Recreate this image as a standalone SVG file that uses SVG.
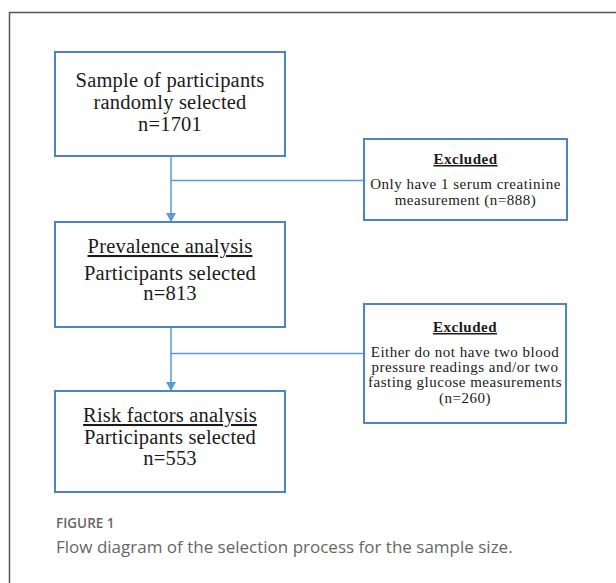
<svg xmlns="http://www.w3.org/2000/svg" width="616" height="583" viewBox="0 0 616 583">
<style>
.box{fill:#fff;stroke:#4f84c4;stroke-width:2}
.t{font-family:"Liberation Serif","Times New Roman",serif;fill:#1a1a1a;text-anchor:middle}
.big{font-size:20.5px;letter-spacing:0.2px}
.sm{font-size:15px;letter-spacing:0.5px}
.u{text-decoration:underline}
.b{font-weight:bold}
.conn{stroke:#5b9bd5;stroke-width:1.5;fill:none}
.cap{font-family:"Open Sans","Liberation Sans",sans-serif;fill:#666}
</style>
<defs>
<marker id="ah" markerWidth="10" markerHeight="10" refX="8" refY="5" orient="auto" markerUnits="userSpaceOnUse">
<path d="M0,0 L9,5 L0,10 Z" fill="#5b9bd5"/>
</marker>
</defs>
<path d="M9.5,583 V12.5 H616" fill="none" stroke="#555" stroke-width="1.5"/>
<g id="connectors">
<path class="conn" d="M171,156 V221" marker-end="url(#ah)"/>
<path class="conn" d="M171,180.5 H364"/>
<path class="conn" d="M171,327 V390" marker-end="url(#ah)"/>
<path class="conn" d="M171,353.5 H364"/>
</g>
<g id="sample">
<rect class="box" x="55" y="52" width="230" height="104"/>
<text class="t big" x="170" y="87">Sample of participants</text>
<text class="t big" x="170" y="109">randomly selected</text>
<text class="t big" x="170" y="131">n=1701</text>
</g>
<g id="excluded1">
<rect class="box" x="364" y="139" width="203" height="81"/>
<text class="t sm b u" x="465.5" y="164">Excluded</text>
<text class="t sm" x="465.5" y="189">Only have 1 serum creatinine</text>
<text class="t sm" x="465.5" y="205">measurement (n=888)</text>
</g>
<g id="prevalence">
<rect class="box" x="55" y="222" width="230" height="105"/>
<text class="t big u" x="170" y="253">Prevalence analysis</text>
<text class="t big" x="170" y="280">Participants selected</text>
<text class="t big" x="170" y="300">n=813</text>
</g>
<g id="excluded2">
<rect class="box" x="364" y="304" width="202" height="119"/>
<text class="t sm b u" x="465" y="332">Excluded</text>
<text class="t sm" x="465" y="357">Either do not have two blood</text>
<text class="t sm" x="465" y="372">pressure readings and/or two</text>
<text class="t sm" x="465" y="387">fasting glucose measurements</text>
<text class="t sm" x="465" y="403">(n=260)</text>
</g>
<g id="risk">
<rect class="box" x="55" y="391" width="230" height="101"/>
<text class="t big u" x="170" y="422">Risk factors analysis</text>
<text class="t big" x="170" y="444">Participants selected</text>
<text class="t big" x="170" y="465">n=553</text>
</g>
<text class="cap" x="56" y="528" font-size="13.5" font-weight="600">FIGURE 1</text>
<text class="cap" x="56" y="553" font-size="17" fill="#666">Flow diagram of the selection process for the sample size.</text>
</svg>
